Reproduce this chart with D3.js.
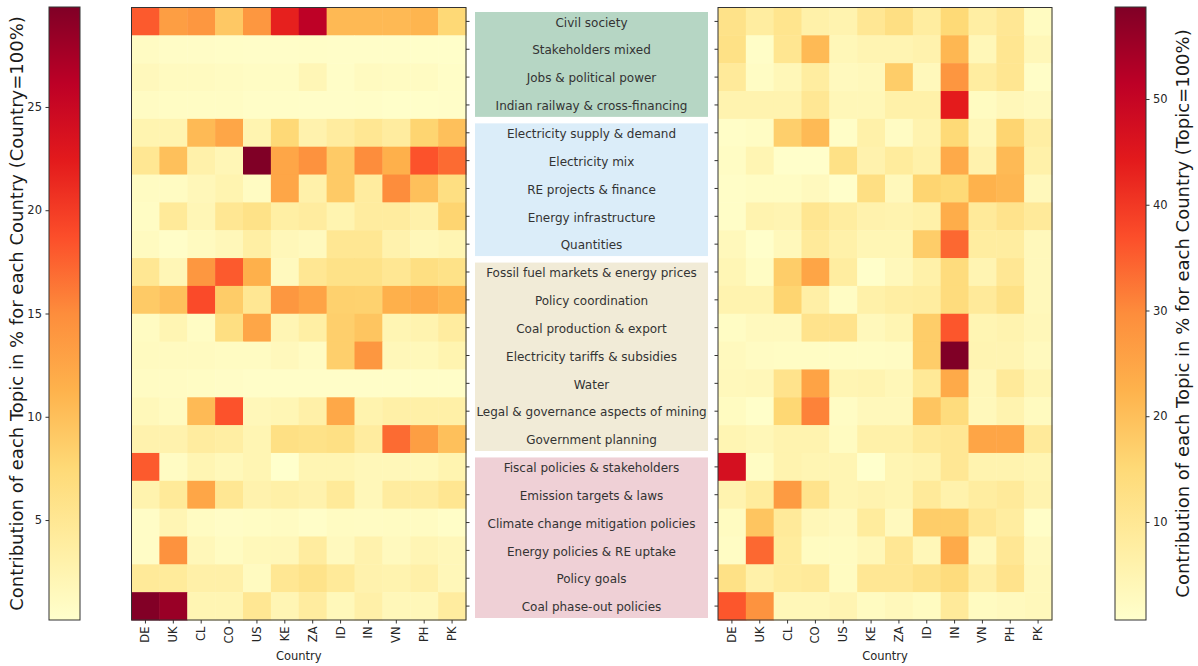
<!DOCTYPE html>
<html>
<head>
<meta charset="utf-8">
<script src="https://cdn.jsdelivr.net/npm/d3@7"></script>
<style>
  html, body { margin: 0; padding: 0; background: #fff; }
  svg { display: block; font-family: "DejaVu Sans", sans-serif; }
</style>
</head>
<body>
<svg id="chart" width="1198" height="666"></svg>
<script>
// Countries (columns) and topics (rows, top to bottom)
const countries = ["DE", "UK", "CL", "CO", "US", "KE", "ZA", "ID", "IN", "VN", "PH", "PK"];

const topics = [
  "Civil society",
  "Stakeholders mixed",
  "Jobs & political power",
  "Indian railway & cross-financing",
  "Electricity supply & demand",
  "Electricity mix",
  "RE projects & finance",
  "Energy infrastructure",
  "Quantities",
  "Fossil fuel markets & energy prices",
  "Policy coordination",
  "Coal production & export",
  "Electricity tariffs & subsidies",
  "Water",
  "Legal & governance aspects of mining",
  "Government planning",
  "Fiscal policies & stakeholders",
  "Emission targets & laws",
  "Climate change mitigation policies",
  "Energy policies & RE uptake",
  "Policy goals",
  "Coal phase-out policies"
];

// Topic groups shown as shaded label boxes
const groupNames = ["Actors", "Electricity", "Markets & governance", "Policies"];
const groupSizes = [4, 5, 7, 6];
const groupColors = ["#b6d6c4", "#dbedf9", "#f1ebd7", "#efd0d6"];

// Share of each topic per country (each country column = 100%)
const shareByCountry = [
  [18.0, 13.3, 14.0, 9.2, 14.0, 22.0, 26.0, 10.6, 10.6, 10.6, 11.0, 7.6],
  [0.9, 0.7, 0.7, 0.6, 0.5, 0.5, 0.6, 0.5, 0.5, 0.5, 0.4, 0.4],
  [1.5, 1.2, 1.2, 1.0, 0.8, 0.8, 2.0, 0.6, 1.2, 1.0, 1.0, 0.6],
  [0.9, 0.8, 0.8, 0.8, 0.6, 0.6, 0.5, 0.5, 0.6, 0.4, 0.4, 0.5],
  [2.5, 2.5, 10.5, 12.5, 2.5, 7.5, 2.8, 4.0, 5.0, 4.0, 8.0, 10.0],
  [5.0, 10.0, 3.0, 2.0, 29.84, 12.5, 14.5, 9.0, 15.0, 11.5, 18.5, 17.0],
  [1.0, 1.0, 1.8, 2.5, 1.0, 12.5, 3.0, 9.0, 4.0, 15.0, 10.0, 6.5],
  [0.8, 4.5, 2.0, 5.0, 6.0, 3.5, 4.0, 2.5, 4.0, 4.0, 3.0, 8.0],
  [1.2, 0.5, 1.2, 1.8, 3.5, 1.8, 1.3, 5.0, 5.0, 2.8, 1.8, 2.3],
  [5.0, 2.0, 14.0, 18.0, 11.5, 1.3, 5.0, 6.0, 6.0, 5.0, 6.5, 6.0],
  [9.0, 10.0, 19.0, 8.8, 5.0, 14.0, 12.8, 8.3, 8.2, 11.5, 12.0, 11.0],
  [1.0, 2.3, 0.8, 6.5, 12.5, 2.2, 3.5, 8.5, 9.5, 2.3, 2.6, 4.0],
  [1.2, 1.2, 1.2, 1.0, 1.0, 1.5, 0.9, 8.5, 14.0, 1.8, 1.7, 2.5],
  [0.9, 0.9, 0.8, 0.7, 0.5, 0.5, 0.5, 0.5, 0.5, 0.5, 0.5, 0.5],
  [1.7, 1.2, 10.5, 18.5, 1.8, 2.1, 3.2, 12.3, 2.7, 3.3, 3.3, 3.3],
  [2.8, 2.8, 4.0, 3.6, 2.3, 6.3, 6.0, 6.3, 4.0, 17.0, 13.3, 10.0],
  [18.0, 0.9, 2.3, 1.7, 2.3, 0.16, 2.3, 2.3, 1.8, 1.8, 1.7, 2.5],
  [2.7, 4.5, 12.5, 5.0, 2.8, 3.3, 2.8, 4.5, 1.8, 4.0, 4.0, 5.2],
  [0.7, 2.2, 1.0, 0.7, 0.8, 1.0, 0.5, 1.0, 0.9, 1.0, 1.0, 0.6],
  [0.7, 14.5, 1.8, 1.0, 1.7, 1.8, 4.0, 1.3, 2.8, 1.3, 2.2, 1.8],
  [4.5, 4.3, 3.2, 3.2, 1.2, 5.0, 5.8, 4.5, 2.8, 2.6, 3.2, 1.8],
  [29.7, 28.3, 2.3, 2.3, 5.0, 2.2, 4.0, 1.7, 3.2, 1.8, 1.8, 4.0]
];

// Share of each country per topic (each topic row = 100%)
const shareByTopic = [
  [12.0, 8.0, 11.0, 6.5, 5.5, 10.0, 13.0, 8.0, 15.0, 7.5, 10.0, 2.5],
  [12.5, 1.5, 10.5, 21.0, 4.0, 5.0, 5.0, 5.8, 21.5, 4.0, 10.5, 4.0],
  [9.0, 2.0, 4.0, 8.0, 3.0, 3.5, 17.5, 3.5, 28.0, 8.0, 10.5, 1.5],
  [5.5, 5.5, 5.5, 10.0, 4.0, 4.0, 6.5, 6.5, 44.0, 2.5, 3.8, 3.0],
  [1.5, 2.0, 17.0, 21.0, 1.5, 6.5, 2.2, 5.5, 15.0, 4.0, 16.0, 7.5],
  [2.0, 4.8, 1.0, 1.0, 12.5, 5.8, 8.5, 6.5, 24.0, 5.8, 21.0, 6.5],
  [1.5, 2.0, 2.0, 3.0, 1.0, 13.0, 3.5, 16.0, 15.0, 22.5, 21.5, 3.5],
  [1.5, 5.5, 5.0, 10.5, 8.0, 5.8, 5.5, 6.5, 23.5, 9.0, 11.5, 9.0],
  [3.5, 1.0, 3.5, 9.0, 6.5, 4.5, 4.5, 17.5, 34.0, 8.0, 8.0, 3.5],
  [4.5, 2.0, 17.5, 25.0, 8.0, 1.0, 3.5, 6.5, 14.0, 5.0, 10.0, 3.5],
  [5.5, 5.5, 16.0, 7.0, 2.0, 6.5, 7.5, 8.0, 14.0, 9.0, 12.5, 3.5],
  [2.0, 3.0, 3.0, 11.5, 11.5, 3.5, 4.8, 17.5, 36.0, 4.8, 5.5, 3.8],
  [3.0, 2.2, 2.0, 2.0, 2.0, 2.0, 2.2, 17.5, 58.7, 5.0, 5.0, 3.0],
  [3.5, 3.8, 11.5, 25.5, 4.8, 5.2, 4.0, 9.5, 24.0, 3.8, 9.0, 4.8],
  [2.5, 1.2, 15.5, 31.0, 2.0, 3.5, 3.5, 19.0, 14.0, 3.5, 5.5, 2.8],
  [4.8, 4.0, 5.5, 5.5, 2.5, 6.5, 6.5, 9.0, 10.0, 25.0, 25.0, 9.0],
  [47.0, 2.0, 5.5, 4.8, 4.8, 0.73, 4.8, 5.5, 10.0, 5.5, 5.5, 4.8],
  [5.5, 8.5, 27.0, 11.5, 4.8, 5.5, 4.8, 9.0, 6.0, 8.0, 9.0, 5.5],
  [2.5, 19.0, 9.0, 4.0, 3.0, 8.5, 3.0, 17.5, 17.5, 10.0, 8.0, 1.5],
  [2.0, 34.0, 8.5, 2.5, 2.5, 4.0, 10.0, 4.0, 24.0, 3.5, 10.0, 3.0],
  [12.5, 6.5, 8.5, 9.0, 2.5, 10.0, 10.0, 12.0, 14.0, 7.0, 11.5, 3.5],
  [36.0, 28.5, 4.0, 4.0, 5.0, 2.5, 3.5, 2.5, 9.0, 2.5, 3.0, 3.5]
];

// Colour bar tick values
const leftTicks = [5, 10, 15, 20, 25];
const rightTicks = [10, 20, 30, 40, 50];

const leftBarLabel = "Contribution of each Topic in % for each Country (Country=100%)";
const rightBarLabel = "Contribution of each Topic in % for each Country (Topic=100%)";

// ---------------------------------------------------------------------------
// YlOrRd, piecewise-linear through the nine ColorBrewer anchors
const ylOrRd9 = ["#ffffcc", "#ffeda0", "#fed976", "#feb24c", "#fd8d3c",
                 "#fc4e2a", "#e31a1c", "#bd0026", "#800026"];

function makeColor(values) {
  const [lo, hi] = d3.extent(values.flat());
  const stops = ylOrRd9.map((_, i) => lo + (hi - lo) * i / (ylOrRd9.length - 1));
  return d3.scaleLinear().domain(stops).range(ylOrRd9)
    .interpolate(d3.interpolateRgb).clamp(true);
}

const svg = d3.select("#chart");
const plotTop = 7.5, plotBottom = 620;
const textColor = "#262626";

const yBand = d3.scaleBand().domain(topics).range([plotTop, plotBottom]).padding(0);

function drawHeatmap(values, x0, x1, tickSide) {
  const color = makeColor(values);
  const x = d3.scaleBand().domain(countries).range([x0, x1]).padding(0);
  const g = svg.append("g");

  const cells = [];
  values.forEach((row, i) => row.forEach((v, j) =>
    cells.push({ topic: topics[i], country: countries[j], v })));

  g.selectAll("rect.cell").data(cells).join("rect")
    .attr("class", "cell")
    .attr("x", d => x(d.country))
    .attr("y", d => yBand(d.topic))
    .attr("width", x.bandwidth() + 0.5)
    .attr("height", yBand.bandwidth() + 0.5)
    .attr("fill", d => color(d.v));

  // frame
  g.append("rect")
    .attr("x", x0).attr("y", plotTop)
    .attr("width", x1 - x0).attr("height", plotBottom - plotTop)
    .attr("fill", "none").attr("stroke", "#333").attr("stroke-width", 1);

  // x axis
  const xAxis = g.append("g")
    .attr("transform", `translate(0,${plotBottom})`)
    .call(d3.axisBottom(x).tickSize(3.5).tickPadding(3));
  xAxis.select(".domain").remove();
  xAxis.selectAll(".tick line").attr("stroke", "#333");
  xAxis.selectAll(".tick text")
    .attr("transform", "rotate(-90)")
    .attr("text-anchor", "end")
    .attr("x", -6.5).attr("y", 0).attr("dy", "0.35em")
    .attr("font-size", 11.5).attr("fill", textColor)
    .attr("font-family", "DejaVu Sans");

  g.append("text")
    .attr("x", (x0 + x1) / 2).attr("y", 660)
    .attr("text-anchor", "middle")
    .attr("font-size", 11.5).attr("fill", textColor)
    .text("Country");

  // y ticks (labels are drawn once in the centre column)
  const yAxis = g.append("g")
    .attr("transform", `translate(${tickSide === "right" ? x1 : x0},0)`)
    .call((tickSide === "right" ? d3.axisRight(yBand) : d3.axisLeft(yBand))
      .tickSize(3.5).tickFormat(""));
  yAxis.select(".domain").remove();
  yAxis.selectAll(".tick line").attr("stroke", "#333");

  return color;
}

const leftColor = drawHeatmap(shareByCountry, 131.5, 466, "right");
const rightColor = drawHeatmap(shareByTopic, 718, 1052, "left");

// ---------------------------------------------------------------------------
// Topic labels in shaded group boxes
const boxX0 = 475, boxX1 = 708;
let start = 0;
groupSizes.forEach((n, gi) => {
  const y0 = yBand(topics[start]) + 4.5;
  const y1 = yBand(topics[start + n - 1]) + yBand.bandwidth() - 2;
  svg.append("rect")
    .attr("x", boxX0).attr("y", y0)
    .attr("width", boxX1 - boxX0).attr("height", y1 - y0)
    .attr("fill", groupColors[gi])
    .attr("data-group", groupNames[gi]);
  start += n;
});

svg.append("g").selectAll("text").data(topics).join("text")
  .attr("x", (boxX0 + boxX1) / 2)
  .attr("y", d => yBand(d) + yBand.bandwidth() / 2 + 1)
  .attr("dy", "0.35em")
  .attr("text-anchor", "middle")
  .attr("font-size", 12)
  .attr("fill", "#333")
  .text(d => d);

// ---------------------------------------------------------------------------
// Colour bars
function drawColorbar(color, x0, x1, ticks, side, label, labelX, id) {
  const dom = color.domain();
  const lo = dom[0], hi = dom[dom.length - 1];
  const y = d3.scaleLinear().domain([lo, hi]).range([plotBottom, 7]);

  const grad = svg.append("defs").append("linearGradient")
    .attr("id", id).attr("x1", 0).attr("y1", 1).attr("x2", 0).attr("y2", 0);
  grad.selectAll("stop").data(ylOrRd9).join("stop")
    .attr("offset", (d, i) => i / (ylOrRd9.length - 1))
    .attr("stop-color", d => d);

  svg.append("rect")
    .attr("x", x0).attr("y", 7)
    .attr("width", x1 - x0).attr("height", plotBottom - 7)
    .attr("fill", `url(#${id})`)
    .attr("stroke", "#333").attr("stroke-width", 1);

  const axis = (side === "left" ? d3.axisLeft(y) : d3.axisRight(y))
    .tickValues(ticks).tickSize(3.5).tickPadding(3.5);
  const ag = svg.append("g")
    .attr("transform", `translate(${side === "left" ? x0 : x1},0)`)
    .call(axis);
  ag.select(".domain").remove();
  ag.selectAll(".tick line").attr("stroke", "#333");
  ag.selectAll(".tick text")
    .attr("font-size", 11.5).attr("fill", textColor)
    .attr("font-family", "DejaVu Sans");

  svg.append("text")
    .attr("transform", `translate(${labelX},${(plotBottom + 7) / 2}) rotate(-90)`)
    .attr("text-anchor", "middle")
    .attr("dy", "0.35em")
    .attr("font-size", 18)
    .attr("fill", "#1a1a1a")
    .text(label);
}

drawColorbar(leftColor, 49, 80, leftTicks, "left", leftBarLabel, 17, "gradLeft");
drawColorbar(rightColor, 1115, 1146, rightTicks, "right", rightBarLabel, 1183, "gradRight");
</script>
</body>
</html>
